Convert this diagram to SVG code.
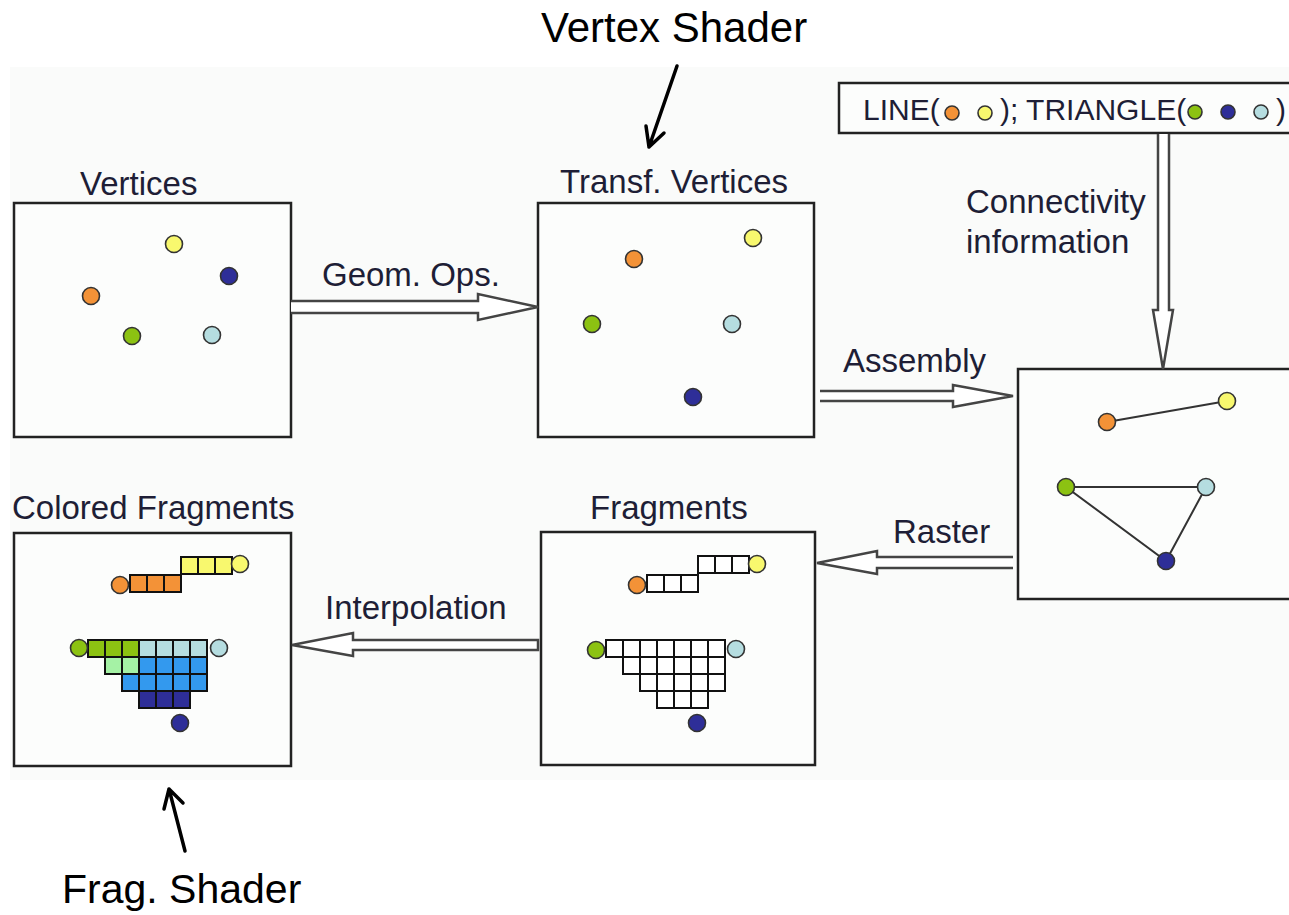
<svg xmlns="http://www.w3.org/2000/svg" width="1289" height="915" viewBox="0 0 1289 915">
<defs>
<style>
.bg{fill:#fafbfa}
.box{fill:#fcfdfc;stroke:#222;stroke-width:2.5}
.lbl{font-family:"Liberation Sans",Arial,sans-serif;font-size:33px;fill:#1e1e36}
.big{font-family:"Liberation Sans",Arial,sans-serif;font-size:42px;fill:#000}
.small{font-family:"Liberation Sans",Arial,sans-serif;font-size:30px;fill:#1e1e36}
.dot{stroke:#333;stroke-width:1.6}
.o{fill:#f39237}.y{fill:#f8f86e}.g{fill:#8cc212}.n{fill:#2e2e98}.lb{fill:#b5dde0}
.lg{fill:#a5f2a5}.bl{fill:#3399ee}
.cell{stroke:#111;stroke-width:2}
.w{fill:#fff}
.edge{stroke:#333;stroke-width:2;fill:none}
.arr{fill:#fff;stroke:#444;stroke-width:2.5;stroke-linejoin:miter}
.pen{stroke:#000;stroke-width:3.5;fill:none;stroke-linecap:round;stroke-linejoin:round}
</style>
</defs>
<rect width="1289" height="915" fill="#fff"/>
<rect class="bg" x="10" y="67" width="1279" height="713"/>

<g id="vertices">
<rect class="box" x="14" y="203" width="277" height="234"/>
<text class="lbl" x="80" y="195">Vertices</text>
<circle class="dot y" cx="174" cy="244" r="8.5"/>
<circle class="dot n" cx="229" cy="276" r="8.5"/>
<circle class="dot o" cx="91" cy="296" r="8.5"/>
<circle class="dot g" cx="132" cy="336" r="8.5"/>
<circle class="dot lb" cx="212" cy="335" r="8.5"/>
</g>

<g id="transf-vertices">
<rect class="box" x="538" y="203" width="276" height="234"/>
<text class="lbl" x="560" y="193">Transf. Vertices</text>
<circle class="dot o" cx="634" cy="259" r="8.5"/>
<circle class="dot y" cx="753" cy="238" r="8.5"/>
<circle class="dot g" cx="592" cy="324" r="8.5"/>
<circle class="dot lb" cx="732" cy="324" r="8.5"/>
<circle class="dot n" cx="693" cy="397" r="8.5"/>
</g>

<g id="connectivity-box">
<rect class="box" x="839" y="83" width="470" height="50"/>
<text class="small" x="863" y="120">LINE(</text>
<circle class="dot o" cx="952" cy="113" r="7"/>
<circle class="dot y" cx="985" cy="113" r="7"/>
<text class="small" x="1000" y="120">); TRIANGLE(</text>
<circle class="dot g" cx="1195" cy="112" r="7"/>
<circle class="dot n" cx="1228" cy="112" r="7"/>
<circle class="dot lb" cx="1261" cy="112" r="7"/>
<text class="small" x="1276" y="120">)</text>
</g>

<g id="primitives">
<rect class="box" x="1018" y="369" width="290" height="230"/>
<line class="edge" x1="1107" y1="422" x2="1227" y2="401"/>
<polygon class="edge" points="1066,487 1206,487 1166,561"/>
<circle class="dot o" cx="1107" cy="422" r="8.5"/>
<circle class="dot y" cx="1227" cy="401" r="8.5"/>
<circle class="dot g" cx="1066" cy="487" r="8.5"/>
<circle class="dot lb" cx="1206" cy="487" r="8.5"/>
<circle class="dot n" cx="1166" cy="561" r="8.5"/>
</g>

<g id="fragments">
<rect class="box" x="541" y="532" width="274" height="233"/>
<text class="lbl" x="590" y="519">Fragments</text>
<g class="cell w">
<rect x="698" y="556" width="17" height="17"/><rect x="715" y="556" width="17" height="17"/><rect x="732" y="556" width="17" height="17"/>
<rect x="647" y="575" width="17" height="17"/><rect x="664" y="575" width="17" height="17"/><rect x="681" y="575" width="17" height="17"/>
<rect x="606" y="640" width="17" height="17"/><rect x="623" y="640" width="17" height="17"/><rect x="640" y="640" width="17" height="17"/><rect x="657" y="640" width="17" height="17"/><rect x="674" y="640" width="17" height="17"/><rect x="691" y="640" width="17" height="17"/><rect x="708" y="640" width="17" height="17"/>
<rect x="623" y="657" width="17" height="17"/><rect x="640" y="657" width="17" height="17"/><rect x="657" y="657" width="17" height="17"/><rect x="674" y="657" width="17" height="17"/><rect x="691" y="657" width="17" height="17"/><rect x="708" y="657" width="17" height="17"/>
<rect x="640" y="674" width="17" height="17"/><rect x="657" y="674" width="17" height="17"/><rect x="674" y="674" width="17" height="17"/><rect x="691" y="674" width="17" height="17"/><rect x="708" y="674" width="17" height="17"/>
<rect x="657" y="691" width="17" height="17"/><rect x="674" y="691" width="17" height="17"/><rect x="691" y="691" width="17" height="17"/>
</g>
<circle class="dot o" cx="637" cy="585" r="8.5"/>
<circle class="dot y" cx="757" cy="564" r="8.5"/>
<circle class="dot g" cx="596" cy="650" r="8.5"/>
<circle class="dot lb" cx="736" cy="649" r="8.5"/>
<circle class="dot n" cx="697" cy="723" r="8.5"/>
</g>

<g id="colored-fragments">
<rect class="box" x="14" y="533" width="277" height="233"/>
<text class="lbl" x="12" y="519">Colored Fragments</text>
<g class="cell">
<rect class="y" x="181" y="557" width="17" height="17"/><rect class="y" x="198" y="557" width="17" height="17"/><rect class="y" x="215" y="557" width="17" height="17"/>
<rect class="o" x="130" y="575" width="17" height="17"/><rect class="o" x="147" y="575" width="17" height="17"/><rect class="o" x="164" y="575" width="17" height="17"/>
<rect class="g" x="88" y="640" width="17" height="17"/><rect class="g" x="105" y="640" width="17" height="17"/><rect class="g" x="122" y="640" width="17" height="17"/><rect class="lb" x="139" y="640" width="17" height="17"/><rect class="lb" x="156" y="640" width="17" height="17"/><rect class="lb" x="173" y="640" width="17" height="17"/><rect class="lb" x="190" y="640" width="17" height="17"/>
<rect class="lg" x="105" y="657" width="17" height="17"/><rect class="lg" x="122" y="657" width="17" height="17"/><rect class="bl" x="139" y="657" width="17" height="17"/><rect class="bl" x="156" y="657" width="17" height="17"/><rect class="bl" x="173" y="657" width="17" height="17"/><rect class="bl" x="190" y="657" width="17" height="17"/>
<rect class="bl" x="122" y="674" width="17" height="17"/><rect class="bl" x="139" y="674" width="17" height="17"/><rect class="bl" x="156" y="674" width="17" height="17"/><rect class="bl" x="173" y="674" width="17" height="17"/><rect class="bl" x="190" y="674" width="17" height="17"/>
<rect class="n" x="139" y="691" width="17" height="17"/><rect class="n" x="156" y="691" width="17" height="17"/><rect class="n" x="173" y="691" width="17" height="17"/>
</g>
<circle class="dot o" cx="120" cy="585" r="8.5"/>
<circle class="dot y" cx="240" cy="564" r="8.5"/>
<circle class="dot g" cx="79" cy="648" r="8.5"/>
<circle class="dot lb" cx="219" cy="648" r="8.5"/>
<circle class="dot n" cx="180" cy="723" r="8.5"/>
</g>

<g id="connectors">
<path class="arr" d="M291,301 H478 V294 L538,307 L478,320 V313 H291"/>
<text class="lbl" x="322" y="286">Geom. Ops.</text>
<path class="arr" d="M820,391 H953 V385 L1013,396 L953,407 V401 H820"/>
<text class="lbl" x="843" y="372">Assembly</text>
<path class="arr" d="M1158,134 V310 H1153 L1163,369 L1173,310 H1169 V134"/>
<text class="lbl" x="966" y="213">Connectivity</text>
<text class="lbl" x="966" y="253">information</text>
<path class="arr" d="M1013,557 H877 V551 L817,563 L877,574 V568 H1013"/>
<text class="lbl" x="893" y="543">Raster</text>
<path class="arr" d="M538,640 H353 V633 L292,645 L353,656 V650 H538 Z"/>
<text class="lbl" x="325" y="619">Interpolation</text>
</g>

<g id="vertex-shader">
<text class="big" x="541" y="42">Vertex Shader</text>
<path class="pen" d="M677,66 L649,147 M646,126 L649,147 L664,133"/>
</g>

<g id="frag-shader">
<text class="big" x="62" y="903" style="font-size:41px">Frag. Shader</text>
<path class="pen" d="M185,851 L169,789 M164,809 L169,789 L183,803"/>
</g>
</svg>
